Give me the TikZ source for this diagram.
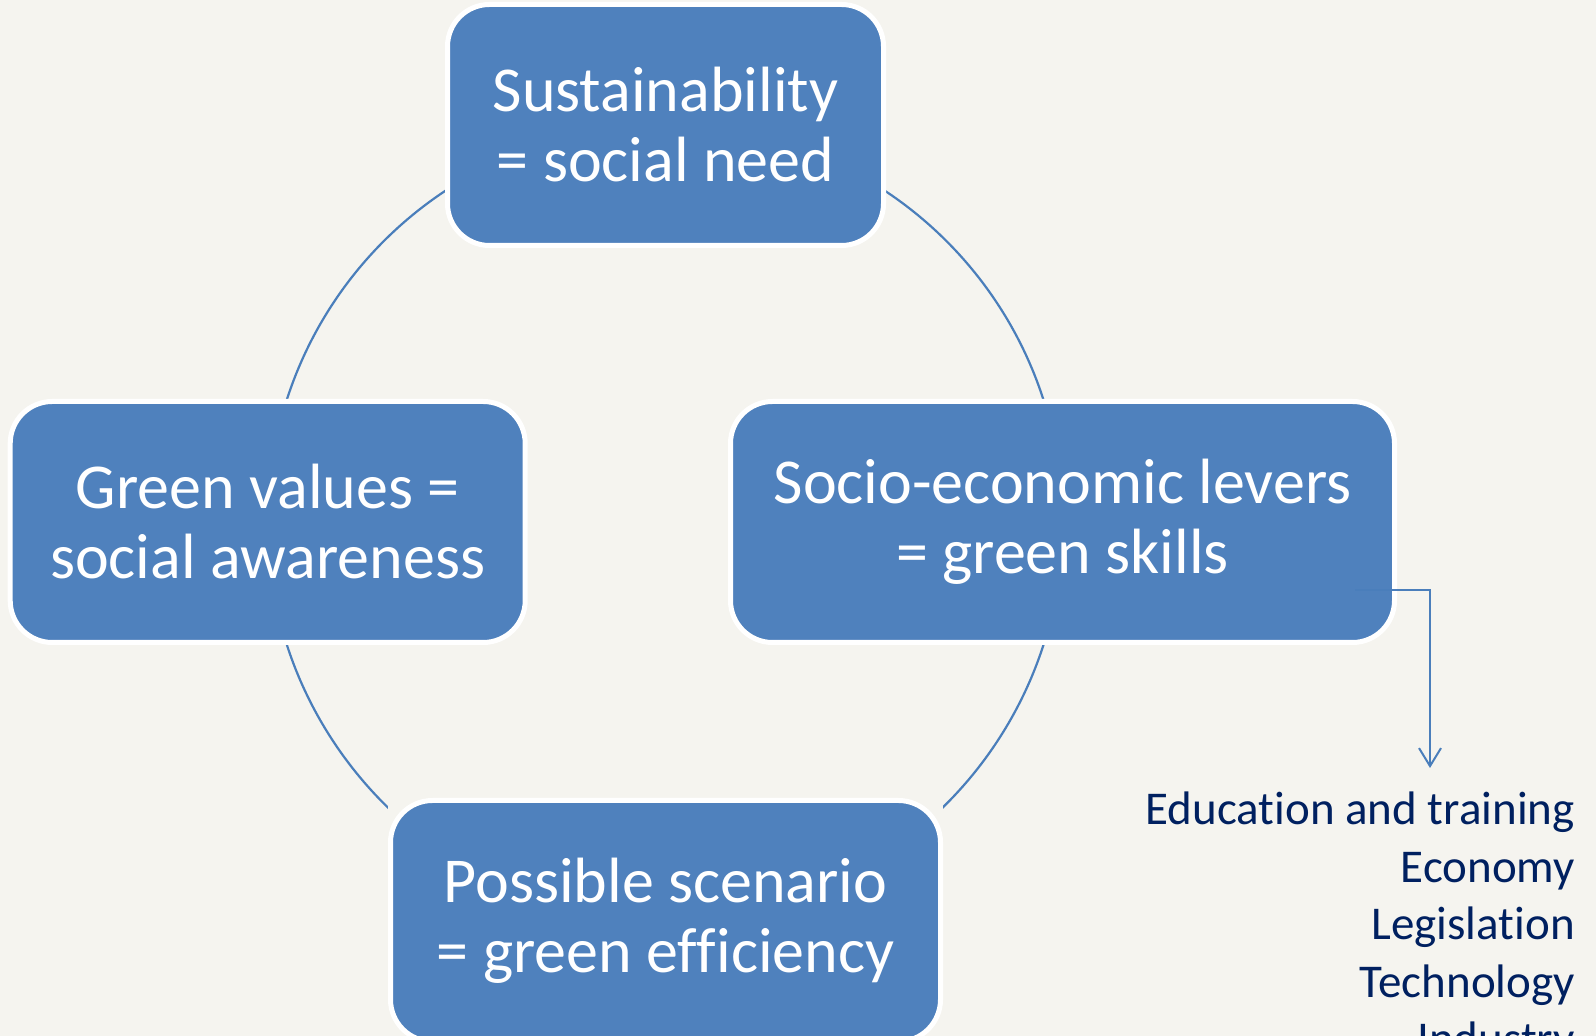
\documentclass[tikz,border=0pt]{standalone}
\usepackage{fontspec}
\setmainfont{Carlito}[Ligatures={NoCommon}]
\usetikzlibrary{arrows.meta, positioning, calc}

\definecolor{paper}{HTML}{F5F4EF}
\definecolor{boxblue}{HTML}{4F81BD}
\definecolor{arcblue}{HTML}{4A7EBB}
\definecolor{listnavy}{HTML}{002060}

\pgfdeclarelayer{arcs}
\pgfdeclarelayer{mask}
\pgfsetlayers{arcs,mask,main}

\tikzset{
  cyclebox/.style={draw=white, line width=5pt, fill=boxblue, rounded corners=42pt,
    text=white, align=center, font=\fontsize{64}{70}\selectfont,
    minimum height=241pt, inner sep=0pt},
  cyclearc/.style={draw=arcblue, line width=2.2pt},
  leverlink/.style={draw=arcblue, line width=2pt, -{Straight Barb[length=18pt,width=22pt]}},
}

\begin{document}
\begin{tikzpicture}[x=1pt,y=1pt]
\begin{pgfonlayer}{arcs}
\fill[paper] (0,0) rectangle (1596,1036);
\end{pgfonlayer}
\useasboundingbox (0,0) rectangle (1596,1036);

% the four stages of the cycle
\node[cyclebox, minimum width=436pt] (sus) at (665.5,911) {Sustainability\\= social need};
\node[cyclebox, minimum width=515pt] (green) at (267.7,514) {Green values =\\social awareness};
\node[cyclebox, minimum width=664pt] (levers) at (1062.5,514) {Socio-economic levers\\= green skills};
\node[cyclebox, minimum width=550pt] (scenario) at (665.5,115) {Possible scenario\\= green efficiency};

% arcs run centre to centre, boxes hide the middle part
\begin{pgfonlayer}{arcs}
\draw[cyclearc] (sus.center) to[bend right=45] (green.center);
\draw[cyclearc] (green.center) to[bend right=45] (scenario.center);
\draw[cyclearc] (scenario.center) to[bend right=45] (levers.center);
\draw[cyclearc] (levers.center) to[bend right=45] (sus.center);
\end{pgfonlayer}
\begin{pgfonlayer}{mask}
\foreach \n in {sus,green,levers,scenario}
  \fill[paper] (\n.south west) rectangle (\n.north east);
\end{pgfonlayer}

% levers broken down
\coordinate (listtip) at (1430,268);
\node[anchor=north east, inner sep=0pt, align=right, text=listnavy,
  font=\fontsize{47}{57.5}\selectfont] (list) at (1575,244)
  {Education and training\\Economy\\Legislation\\Technology\\Industry};
\draw[leverlink] ([xshift=-42pt,yshift=-68pt]levers.east) -| (listtip);
\end{tikzpicture}
\end{document}
